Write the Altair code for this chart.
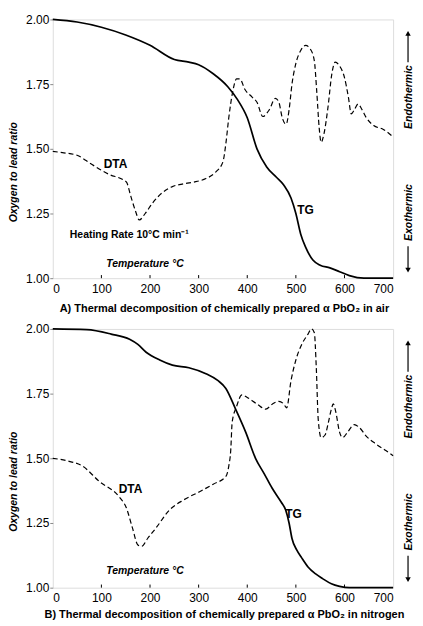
import altair as alt
import pandas as pd

# ---------------- Panel A (air) ----------------
tg_a_temp = [0, 50, 100, 150, 200, 250, 280, 300, 330, 360, 380, 400, 420, 440, 460, 475, 490, 500, 510, 520, 535, 550, 570, 590, 610, 640, 700]
tg_a_ratio = [2.00, 1.99, 1.97, 1.94, 1.90, 1.845, 1.835, 1.825, 1.79, 1.74, 1.69, 1.62, 1.50, 1.43, 1.39, 1.36, 1.31, 1.25, 1.17, 1.12, 1.07, 1.05, 1.04, 1.025, 1.01, 1.00, 1.00]

dta_a_temp = [0, 20, 50, 80, 117, 145, 152, 160, 170, 178, 190, 205, 225, 246, 270, 294, 315, 335, 350, 356, 362, 370, 378, 385, 395, 410, 420, 432, 445, 458, 465, 472, 480, 486, 492, 500, 510, 520, 530, 538, 543, 548, 552, 558, 566, 574, 581, 590, 600, 608, 614, 620, 628, 635, 645, 660, 680, 700]
dta_a_value = [1.49, 1.485, 1.475, 1.44, 1.40, 1.38, 1.37, 1.32, 1.26, 1.225, 1.25, 1.29, 1.33, 1.354, 1.365, 1.373, 1.385, 1.41, 1.45, 1.52, 1.62, 1.72, 1.77, 1.77, 1.73, 1.70, 1.68, 1.625, 1.65, 1.695, 1.68, 1.62, 1.595, 1.65, 1.75, 1.83, 1.88, 1.90, 1.885, 1.84, 1.72, 1.58, 1.525, 1.56, 1.66, 1.79, 1.835, 1.82, 1.775, 1.70, 1.635, 1.65, 1.673, 1.655, 1.62, 1.59, 1.575, 1.546]

# ---------------- Panel B (nitrogen) ----------------
tg_b_temp = [0, 70, 120, 158, 175, 192, 220, 246, 280, 315, 340, 356, 376, 397, 417, 435, 451, 470, 479, 486, 492, 502, 512, 525, 540, 555, 573, 590, 610, 700]
tg_b_ratio = [2.00, 1.997, 1.98, 1.96, 1.94, 1.91, 1.88, 1.86, 1.85, 1.827, 1.80, 1.77, 1.69, 1.60, 1.50, 1.44, 1.385, 1.33, 1.30, 1.25, 1.19, 1.145, 1.115, 1.08, 1.054, 1.035, 1.015, 1.005, 1.00, 1.00]

dta_b_temp = [0, 30, 61, 96, 137, 151, 164, 175, 183, 195, 212, 240, 270, 301, 330, 356, 362, 366, 369, 378, 389, 400, 420, 438, 452, 465, 475, 481, 490, 500, 512, 525, 532, 538, 542, 546, 552, 560, 567, 573, 577, 582, 590, 596, 606, 620, 630, 645, 665, 685, 700]
dta_b_value = [1.50, 1.49, 1.47, 1.41, 1.35, 1.31, 1.23, 1.165, 1.16, 1.19, 1.23, 1.30, 1.34, 1.37, 1.40, 1.43, 1.47, 1.53, 1.64, 1.70, 1.745, 1.735, 1.71, 1.69, 1.71, 1.72, 1.71, 1.695, 1.80, 1.88, 1.94, 1.98, 2.00, 1.985, 1.85, 1.65, 1.58, 1.59, 1.64, 1.69, 1.71, 1.68, 1.60, 1.58, 1.60, 1.63, 1.62, 1.585, 1.555, 1.53, 1.51]

x_ticks = [0, 100, 200, 300, 400, 500, 600, 700]
y_ticks = [1.00, 1.25, 1.50, 1.75, 2.00]
inner_ticks = [100, 200, 300, 400, 500, 600]

caption_a = "A)  Thermal  decomposition of chemically prepared  \u03b1 PbO\u2082 in air"
caption_b = "B)  Thermal  decomposition of chemically prepared   \u03b1 PbO\u2082 in nitrogen"

labels_a = [
    {"t": 129, "v": 1.442, "text": "DTA", "style": "normal", "align": "center", "size": 12},
    {"t": 520, "v": 1.262, "text": "TG", "style": "normal", "align": "center", "size": 12},
    {"t": 35, "v": 1.165, "text": "Heating Rate 10\u00b0C min\u207b\u00b9", "style": "normal", "align": "left", "size": 10.5},
    {"t": 110, "v": 1.054, "text": "Temperature  \u00b0C", "style": "italic", "align": "left", "size": 10.5},
]
labels_b = [
    {"t": 160, "v": 1.381, "text": "DTA", "style": "normal", "align": "center", "size": 12},
    {"t": 495, "v": 1.285, "text": "TG", "style": "normal", "align": "center", "size": 12},
    {"t": 110, "v": 1.065, "text": "Temperature  \u00b0C", "style": "italic", "align": "left", "size": 10.5},
]

FONT = "Liberation Sans"
W, H = 342, 260


def panel(tg_t, tg_r, dta_t, dta_v, labels, caption, cap_y):
    xs = alt.Scale(domain=[0, 700], nice=False)
    ys = alt.Scale(domain=[1.0, 2.0], nice=False)
    x_axis = alt.Axis(values=x_ticks, title=caption, grid=False, domain=False,
                      tickSize=0, labelPadding=5, labelFontSize=12,
                      titleX=172, titleY=cap_y, titleBaseline="middle",
                      titleFontSize=11, titleFontWeight="bold", titleFont=FONT)
    y_axis = alt.Axis(values=y_ticks, format=".2f", title="Oxygen to lead ratio",
                      grid=False, domain=False, tickSize=3, labelPadding=1,
                      labelFontSize=12, titleX=-39, titleY=153, titleAngle=270,
                      titleBaseline="middle", titleAlign="center",
                      titleFontSize=10.5, titleFontStyle="italic",
                      titleFontWeight="bold", titleFont=FONT)

    tg_df = pd.DataFrame({"T": tg_t, "R": tg_r})
    dta_df = pd.DataFrame({"T": dta_t, "R": dta_v})

    tg = alt.Chart(tg_df).mark_line(color="black", strokeWidth=1.7, interpolate="monotone").encode(
        x=alt.X("T:Q", scale=xs, axis=x_axis),
        y=alt.Y("R:Q", scale=ys, axis=y_axis),
    )
    dta = alt.Chart(dta_df).mark_line(color="black", strokeWidth=1.2, strokeDash=[5, 3],
                                      interpolate="monotone").encode(
        x=alt.X("T:Q", scale=xs), y=alt.Y("R:Q", scale=ys))

    tick_df = pd.DataFrame({"T": inner_ticks, "y0": [1.0] * len(inner_ticks), "y1": [1.012] * len(inner_ticks)})
    ticks = alt.Chart(tick_df).mark_rule(color="black", strokeWidth=1).encode(
        x=alt.X("T:Q", scale=xs), y=alt.Y("y0:Q", scale=ys), y2="y1:Q")

    text_layers = []
    for lab in labels:
        d = pd.DataFrame([lab])
        text_layers.append(
            alt.Chart(d).mark_text(font=FONT, fontWeight="bold", fontSize=lab["size"],
                                   fontStyle=lab["style"], align=lab["align"],
                                   baseline="middle", color="black").encode(
                x=alt.X("t:Q", scale=xs), y=alt.Y("v:Q", scale=ys), text="text:N"))

    one = pd.DataFrame({"a": [0]})
    side = []
    side.append(alt.Chart(one).mark_text(text="Endothermic", angle=270, font=FONT, fontWeight="bold",
                                         fontStyle="italic", fontSize=10.5, baseline="middle",
                                         align="center", color="black").encode(
        x=alt.value(358), y=alt.value(78)))
    side.append(alt.Chart(one).mark_text(text="Exothermic", angle=270, font=FONT, fontWeight="bold",
                                         fontStyle="italic", fontSize=10.5, baseline="middle",
                                         align="center", color="black").encode(
        x=alt.value(358), y=alt.value(194)))
    side.append(alt.Chart(one).mark_rule(color="black", strokeWidth=1.2).encode(
        x=alt.value(357), y=alt.value(14), y2=alt.value(43)))
    side.append(alt.Chart(one).mark_rule(color="black", strokeWidth=1.2).encode(
        x=alt.value(357), y=alt.value(228), y2=alt.value(250)))
    side.append(alt.Chart(one).mark_point(shape="triangle-up", filled=True, color="black",
                                          size=30, opacity=1).encode(
        x=alt.value(357), y=alt.value(14)))
    side.append(alt.Chart(one).mark_point(shape="triangle-down", filled=True, color="black",
                                          size=30, opacity=1).encode(
        x=alt.value(357), y=alt.value(252)))

    return alt.layer(tg, dta, ticks, *text_layers, *side).properties(width=W, height=H)


pa = panel(tg_a_temp, tg_a_ratio, dta_a_temp, dta_a_value, labels_a, caption_a, 30)
pb = panel(tg_b_temp, tg_b_ratio, dta_b_temp, dta_b_value, labels_b, caption_b, 27)

chart = alt.vconcat(pa, pb, spacing=8).properties(
    padding={"top": 3, "left": 0, "right": 0, "bottom": 0}
).configure_view(
    stroke="black", strokeWidth=1.5
).configure_axis(
    labelFont=FONT, labelFontWeight="bold", labelColor="black", tickColor="black",
    titleColor="black"
).configure(background="white")

chart.save("out.html", embed_options={"renderer": "svg", "actions": False})
